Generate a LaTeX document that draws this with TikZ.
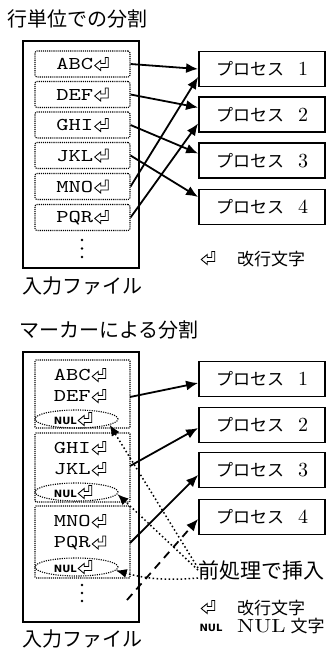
\documentclass[tikz,border=0pt]{standalone}
\usepackage{fontspec}
\usetikzlibrary{arrows.meta,shapes.geometric}
\newfontfamily\jp{Noto Sans CJK JP}
\newfontfamily\ttw[FakeStretch=1.3]{lmmono10-regular.otf}
\newfontfamily\nulf{DejaVu Sans}
\newfontfamily\rmw[FakeStretch=1.2]{lmroman10-regular.otf}
\newfontfamily\dig{lmroman10-regular.otf}
\newsavebox\retsym
\begin{document}
\sbox\retsym{\begin{pgfpicture}\pgfsetbaseline{0pt}\pgfsetlinewidth{0.85pt}\pgfsetmiterjoin
\pgfpathmoveto{\pgfpoint{0pt}{4pt}}%
\pgfpathlineto{\pgfpoint{6pt}{9pt}}%
\pgfpathlineto{\pgfpoint{6pt}{6pt}}%
\pgfpathlineto{\pgfpoint{10.5pt}{6pt}}%
\pgfpathlineto{\pgfpoint{10.5pt}{12pt}}%
\pgfpathlineto{\pgfpoint{13.5pt}{12pt}}%
\pgfpathlineto{\pgfpoint{13.5pt}{2pt}}%
\pgfpathlineto{\pgfpoint{6pt}{2pt}}%
\pgfpathlineto{\pgfpoint{6pt}{-1pt}}%
\pgfpathclose\pgfusepath{stroke}\end{pgfpicture}}%
\newcommand\retmark{\hspace{1pt}\usebox\retsym}%
\begin{tikzpicture}[x=1pt,y=-1pt,
  outer/.style={draw,line width=1.6pt,inner sep=0pt},
  linebox/.style={draw,line width=1.1pt,dash pattern=on 1.1pt off 1pt,rounded corners=2pt,minimum width=95pt,minimum height=26pt,inner sep=0pt,font=\ttw\fontsize{18}{18}\selectfont},
  grpbox/.style={draw,line width=1.1pt,dash pattern=on 1.1pt off 1pt,rounded corners=1pt,minimum width=95pt,inner sep=0pt},
  proc/.style={draw,line width=1.8pt,minimum width=126pt,minimum height=35pt,inner sep=0pt,font=\dig\fontsize{20}{20}\selectfont},
  arr/.style={line width=1.8pt,-{Latex[length=12pt,width=10pt]}},
  dasharr/.style={arr,dash pattern=on 8pt off 6pt},
  dotarr/.style={line width=1.5pt,dash pattern=on 1.5pt off 2.5pt,-{Latex[length=11pt,width=9pt]}},
  nulell/.style={ellipse,draw,line width=1.1pt,dash pattern=on 1.1pt off 1.2pt,minimum width=83pt,minimum height=18pt,inner sep=0pt},
  ttxt/.style={font=\ttw\fontsize{18}{18}\selectfont,inner sep=0pt},
  nultxt/.style={inner sep=0pt},
  jplab/.style={font=\jp\fontsize{20}{20}\selectfont,inner sep=0pt,anchor=west},
  legtxt/.style={font=\jp\fontsize{17}{17}\selectfont,inner sep=0pt,anchor=west}
]
\useasboundingbox (0,0) rectangle (329,648);
\newcommand\smallnul{{\nulf\bfseries\fontsize{10}{10}\selectfont NUL}}
\newcommand\procname[1]{{\jp\fontsize{17}{17}\selectfont プロセス}\hspace{14pt}#1}

% ---------- top part ----------
\node[jplab] (t1) at (7,19) {行単位での分割};
\node[outer,minimum width=116pt,minimum height=227pt] (f1) at (81,154.5) {};
\node[linebox] (l1) at (82.5,64) {ABC\retmark};
\node[linebox] (l2) at (82.5,94.5) {DEF\retmark};
\node[linebox] (l3) at (82.5,125) {GHI\retmark};
\node[linebox] (l4) at (82.5,155.5) {JKL\retmark};
\node[linebox] (l5) at (82.5,186.5) {MNO\retmark};
\node[linebox] (l6) at (82.5,217.5) {PQR\retmark};
\fill (82,240) circle (1.4) (82,248.5) circle (1.4) (82,257) circle (1.4);
\node[jplab] (fl1) at (22,286) {入力ファイル};

\node[proc] (p1) at (262,69) {\procname{1}};
\node[proc] (p2) at (262,114.5) {\procname{2}};
\node[proc] (p3) at (262,160.5) {\procname{3}};
\node[proc] (p4) at (262,207) {\procname{4}};

\draw[arr] (l1.east) -- (p1.west);
\draw[arr] (l2.east) -- ([yshift=7pt]p2.west);
\draw[arr] (l3.east) -- ([yshift=7pt]p3.west);
\draw[arr] (l4.east) -- ([yshift=10pt]p4.west);
\draw[arr] (l5.east) -- ([yshift=-8pt]p1.west);
\draw[arr] (l6.east) -- ([yshift=-9pt]p2.west);

\node[inner sep=0pt] (rs1) at (208,258) {\usebox\retsym};
\node[legtxt] (lg1) at (237,259) {改行文字};

% ---------- bottom part ----------
\node[jplab] (t2) at (19,330) {マーカーによる分割};
\node[outer,minimum width=116pt,minimum height=270pt] (f2) at (81,487) {};
\node[grpbox,minimum height=68pt] (g1) at (82.5,394) {};
\node[grpbox,minimum height=69pt] (g2) at (82.5,467.5) {};
\node[grpbox,minimum height=72pt] (g3) at (82.5,542) {};

\node[ttxt] (b1) at (80,375) {ABC\retmark};
\node[ttxt] (b2) at (80,396) {DEF\retmark};
\node[nulell] (n1) at (76.5,419) {};
\node[nultxt] (m1) at (73,419) {\smallnul\retmark};
\node[ttxt] (b3) at (80,448) {GHI\retmark};
\node[ttxt] (b4) at (80,469) {JKL\retmark};
\node[nulell] (n2) at (76.5,492) {};
\node[nultxt] (m2) at (73,492) {\smallnul\retmark};
\node[ttxt] (b5) at (80,521) {MNO\retmark};
\node[ttxt] (b6) at (80,543) {PQR\retmark};
\node[nulell] (n3) at (76.5,567) {};
\node[nultxt] (m3) at (73,567) {\smallnul\retmark};
\fill (82,585) circle (1.4) (82,593) circle (1.4) (82,601) circle (1.4);
\node[jplab] (fl2) at (22,639) {入力ファイル};

\node[proc] (q1) at (262,379) {\procname{1}};
\node[proc] (q2) at (262,425) {\procname{2}};
\node[proc] (q3) at (262,470) {\procname{3}};
\node[proc] (q4) at (262,517) {\procname{4}};

\coordinate (s1) at (130,397);
\coordinate (s2) at (130,466);
\coordinate (s3) at (130,543);
\coordinate (s4) at (127,600);
\draw[arr] (s1) -- ([yshift=-4pt]q1.west);
\draw[arr] (s2) -- ([yshift=-3pt]q2.west);
\draw[arr] (s3) -- ([yshift=-5pt]q3.west);
\draw[dasharr] (s4) -- ([yshift=-2pt]q4.west);

\node[font=\jp\fontsize{21}{21}\selectfont,inner sep=0pt,anchor=west] (pre) at (198,570) {前処理で挿入};
\draw[dotarr] ([yshift=2pt]pre.west) -- (n1.-10);
\draw[dotarr] (pre.west) -- (n2.-3);
\draw[dotarr] ([yshift=-8pt]pre.west) to[bend left=10] (n3.-5);

\node[inner sep=0pt] (rs2) at (208,607) {\usebox\retsym};
\node[legtxt] (lg2) at (237,608) {改行文字};
\node[inner sep=0pt] (ns) at (211,628) {\smallnul};
\node[inner sep=0pt,anchor=west] (lg3) at (237,626) {{\rmw\fontsize{19}{19}\selectfont NUL}\hspace{5pt}{\jp\fontsize{17}{17}\selectfont 文字}};
\end{tikzpicture}
\end{document}
